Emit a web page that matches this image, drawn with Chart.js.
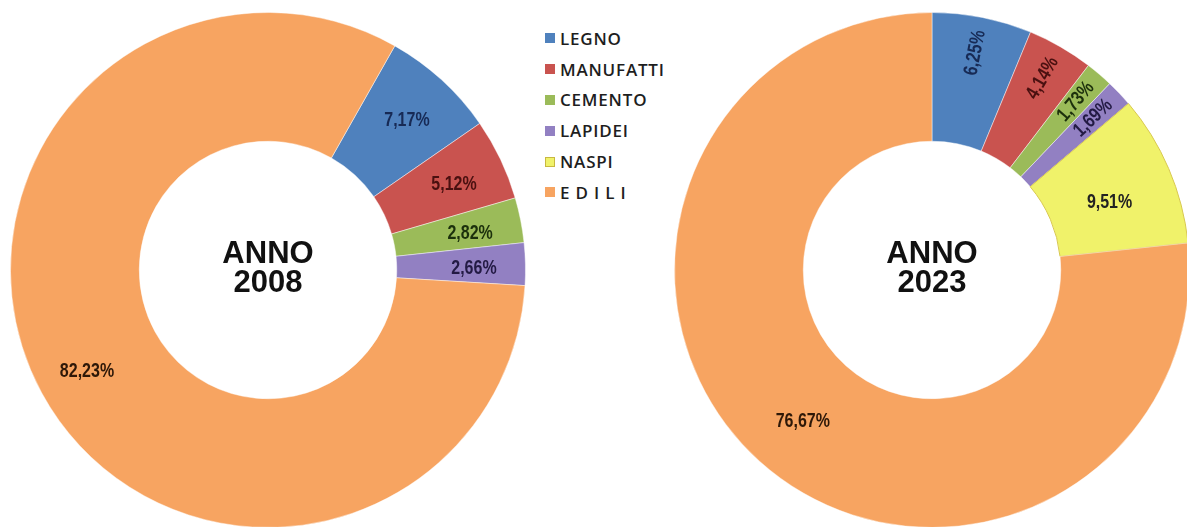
<!DOCTYPE html>
<html>
<head>
<meta charset="utf-8">
<script src="https://cdn.jsdelivr.net/npm/chart.js@4.4.1/dist/chart.umd.min.js"></script>
<style>
  html, body { margin: 0; padding: 0; background: #fff; overflow: hidden; }
  body { width: 1187px; height: 527px; position: relative; }
  .pie { position: absolute; top: 12px; width: 516px; height: 516px; }
  #legend { position: absolute; left: 545px; top: 23px; font-family: "Open Sans", sans-serif; font-weight: 600; font-size: 17px; letter-spacing: 0.8px; color: #1e1e1e; }
  #legend div { height: 30.8px; display: flex; align-items: center; }
  #legend span.box { display: inline-block; width: 10px; height: 10px; margin-right: 5px; box-sizing: border-box; }
</style>
</head>
<body>
<div class="pie" style="left:10px"><canvas id="c2008"></canvas></div>
<div class="pie" style="left:674px"><canvas id="c2023"></canvas></div>
<div id="legend"></div>
<script>
// categorie e valori (percentuali)
const categorie = ['LEGNO', 'MANUFATTI', 'CEMENTO', 'LAPIDEI', 'NASPI', 'E D I L I'];
const valori2008 = [7.17, 5.12, 2.82, 2.66, 0, 82.23];
const valori2023 = [6.25, 4.14, 1.73, 1.69, 9.51, 76.67];
const colori = ['#4f81bd', '#c9534f', '#9bbb59', '#9280c2', '#f0f26a', '#f7a461'];
const coloriTesto = ['#172a55', '#4a1010', '#1c300c', '#231a44', '#222', '#2e1808'];

// legenda html
const leg = document.getElementById('legend');
categorie.forEach((c, i) => {
    const row = document.createElement('div');
    const border = i === 4 ? 'border:1px solid #c8b840;' : '';
    row.innerHTML = `<span class="box" style="background:${colori[i]};${border}"></span>${c}`;
    leg.appendChild(row);
});

// etichette percentuali + testo centrale
const etichette = {
    id: 'etichette',
    afterDatasetsDraw(chart, args, opts) {
        const ctx = chart.ctx;
        const meta = chart.getDatasetMeta(0);
        const vals = chart.data.datasets[0].data;
        ctx.save();
        meta.data.forEach((arc, i) => {
            if (!vals[i]) return;
            const p = arc.getProps(['x', 'y', 'startAngle', 'endAngle', 'innerRadius', 'outerRadius'], true);
            const mid = (p.startAngle + p.endAngle) / 2;
            const ruota = opts.ruota && opts.ruota[i];
            const r = p.outerRadius * (ruota ? 0.86 : opts.raggio);
            const x = p.x + Math.cos(mid) * r;
            const y = p.y + Math.sin(mid) * r + (ruota ? 0 : opts.dy);
            ctx.save();
            ctx.translate(x, y);
            if (ruota) ctx.rotate(mid);
            ctx.scale(0.8, 1); // tipo "narrow"
            ctx.font = 'bold 20px "Liberation Sans", Arial, sans-serif';
            ctx.fillStyle = coloriTesto[i];
            ctx.textAlign = 'center';
            ctx.textBaseline = 'middle';
            ctx.fillText(vals[i].toFixed(2).replace('.', ',') + '%', 0, 0);
            ctx.restore();
        });
        // anno al centro
        const cx = meta.data[0].x, cy = meta.data[0].y;
        ctx.font = 'bold 31px "Liberation Sans", Arial, sans-serif';
        ctx.fillStyle = '#111';
        ctx.textAlign = 'center';
        ctx.textBaseline = 'middle';
        ctx.fillText('ANNO', cx, cy - 16);
        ctx.fillText(opts.anno, cx, cy + 13);
        ctx.restore();
    }
};

function torta(id, valori, rotazione, anno, raggio, dy, ruota) {
    return new Chart(document.getElementById(id), {
        type: 'doughnut',
        data: {
            labels: categorie,
            datasets: [{
                data: valori,
                backgroundColor: colori,
                borderColor: colori.map((c, i) => i === 4 ? '#d8c850' : 'rgba(255,255,255,0.45)'),
                borderWidth: 1
            }]
        },
        options: {
            responsive: true,
            maintainAspectRatio: false,
            animation: false,
            rotation: rotazione,
            cutout: '50%',
            layout: { padding: 0 },
            plugins: {
                legend: { display: false },
                tooltip: { enabled: false },
                etichette: { anno: anno, raggio: raggio, dy: dy, ruota: ruota }
            }
        },
        plugins: [etichette]
    });
}

torta('c2008', valori2008, 29.5, '2008', 0.8, 3, null);
torta('c2023', valori2023, 0, '2023', 0.75, 8, [true, true, true, true, false, false]);
</script>
</body>
</html>
